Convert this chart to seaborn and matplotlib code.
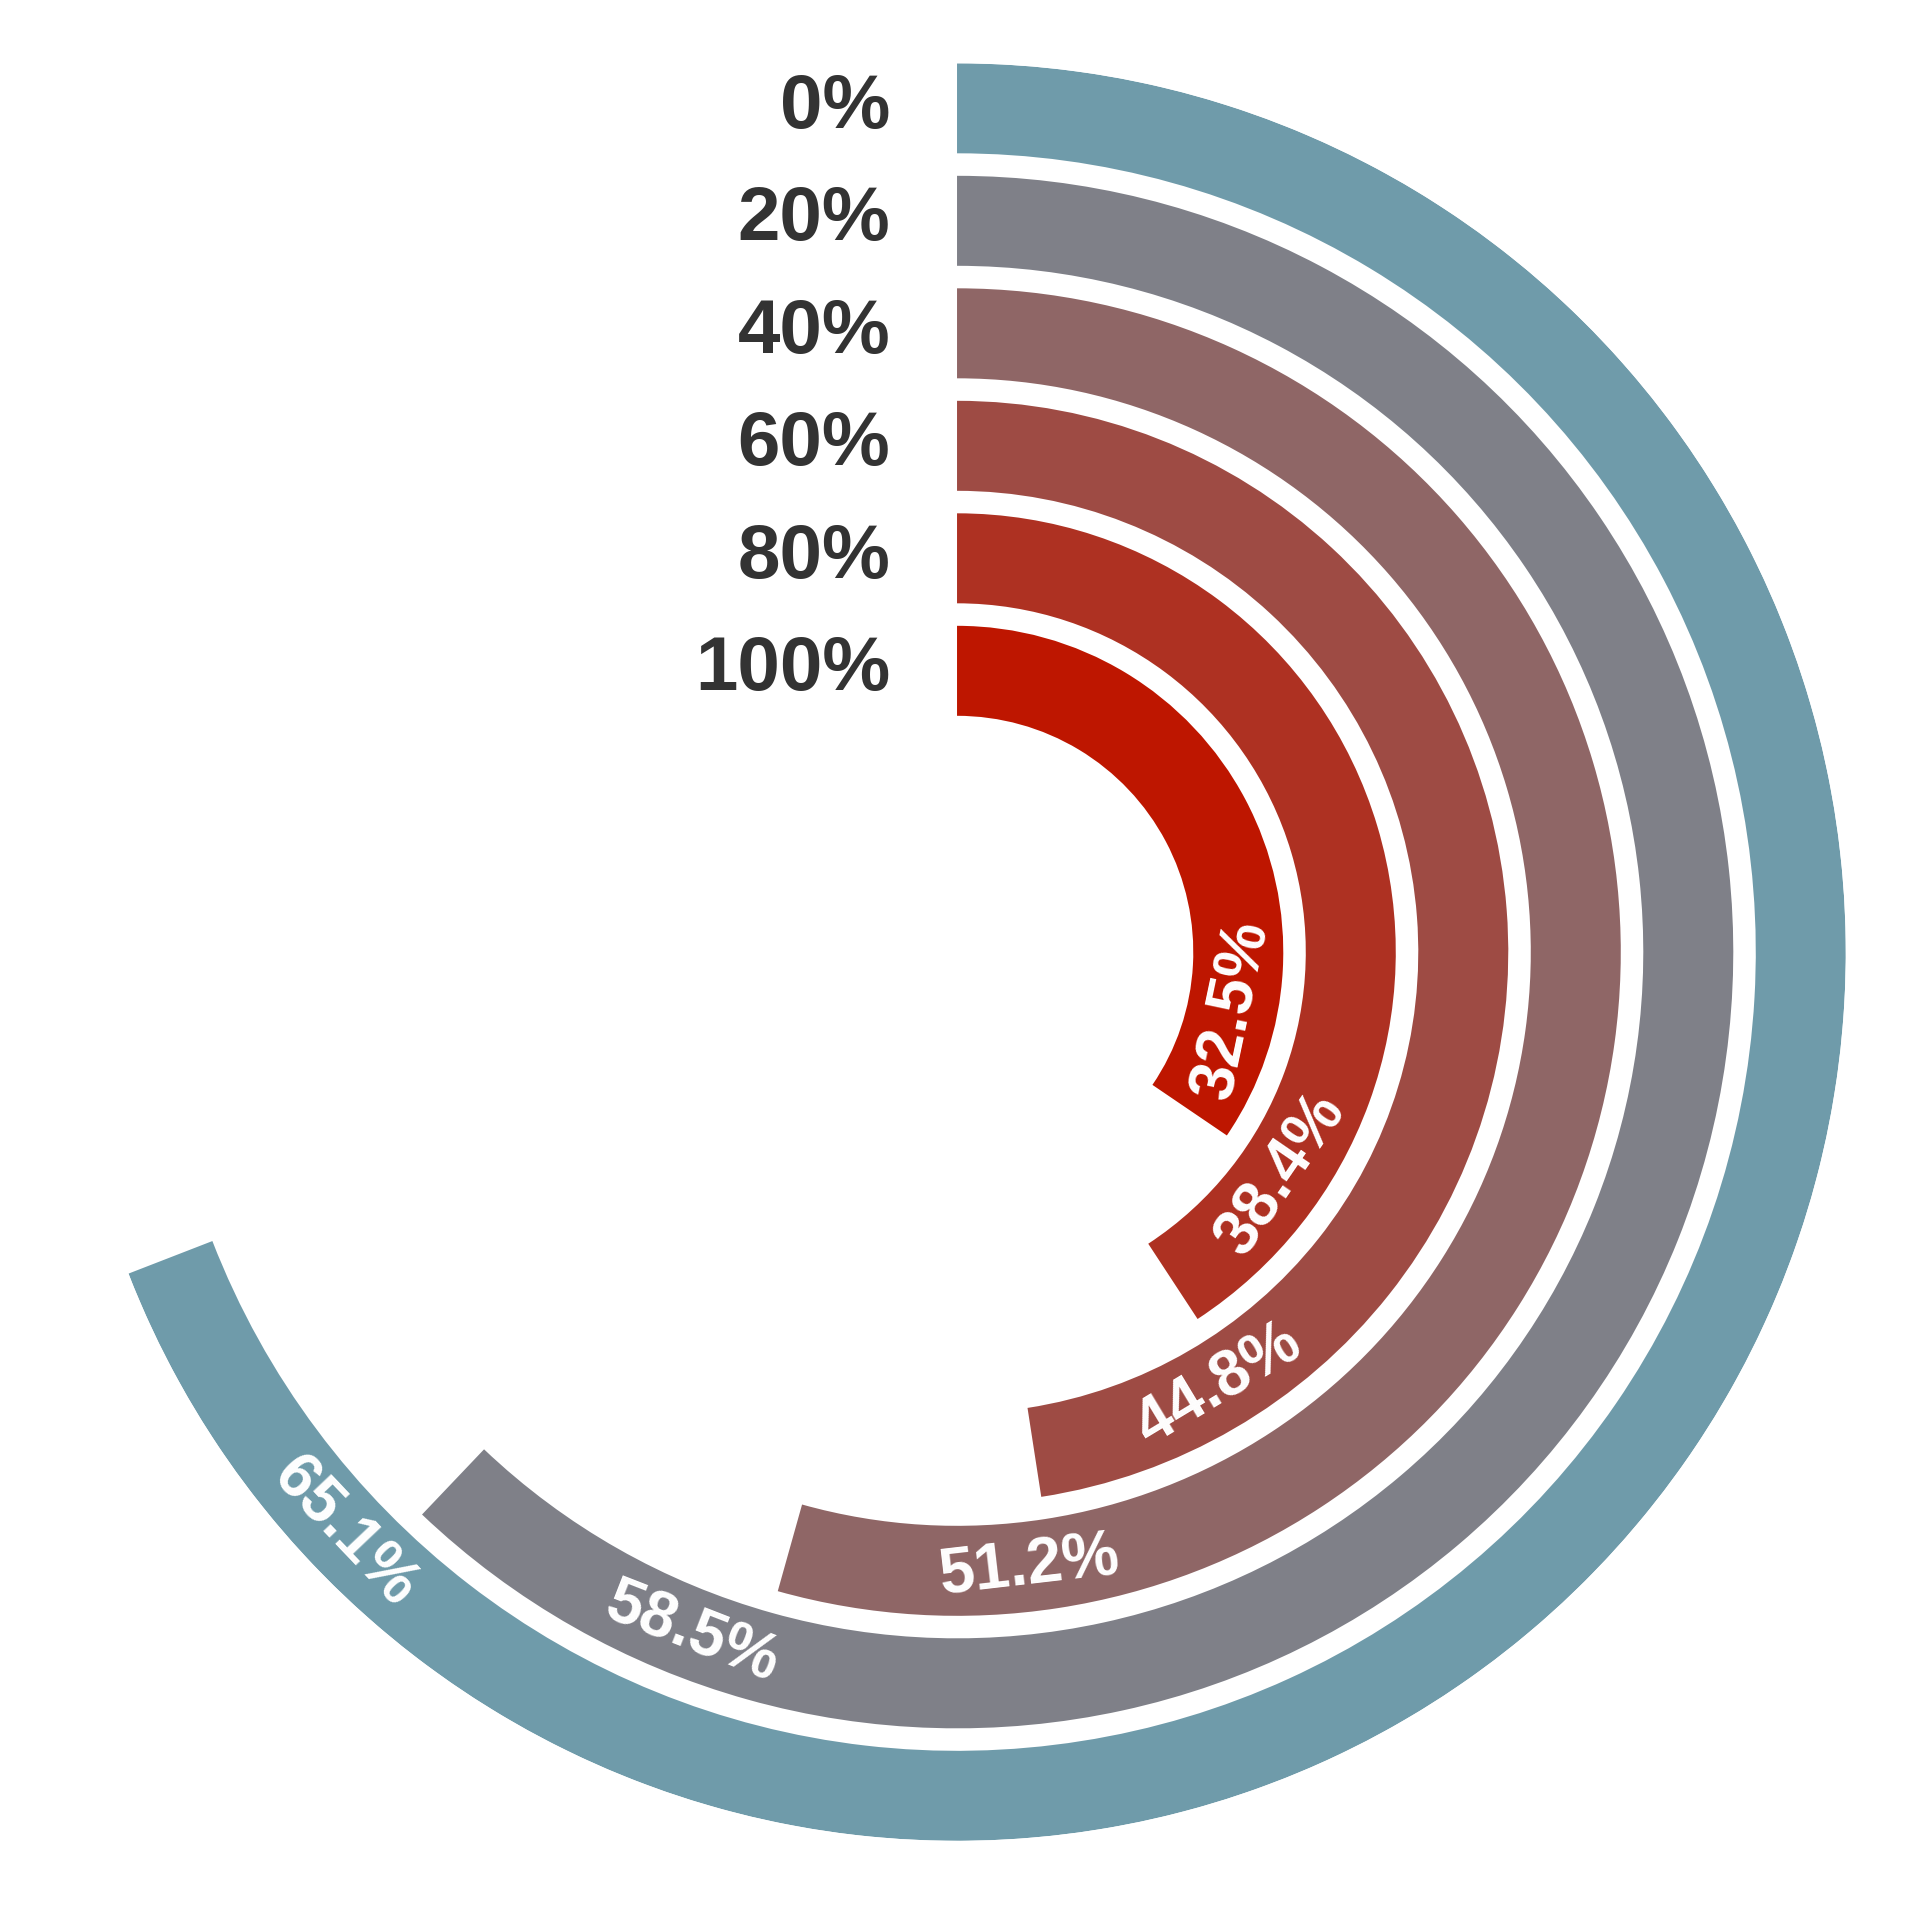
import numpy as np
import matplotlib.pyplot as plt
import seaborn as sns

#  Data (outer ring first) 
ring_labels = ['0%', '20%', '40%', '60%', '80%', '100%']
values = [65.1, 58.5, 51.2, 44.8, 38.4, 32.5]
value_labels = ['65.1%', '58.5%', '51.2%', '44.8%', '38.4%', '32.5%']

sns.set_theme(style='white')
plt.rcParams['font.family'] = ['Liberation Sans', 'DejaVu Sans']

# colours blend from steel blue (outer) to red (inner)
colors = sns.blend_palette(['#6F9BAA', '#BE1600'], len(values))

full_turn = 94.2      # percent that fills a whole circle
label_back = 22.3     # degrees the label centre sits before the bar end

fig = plt.figure(figsize=(19.07, 19.07), dpi=100)
ax = fig.add_axes([0.0358, 0.0347, 0.9321, 0.9321], projection='polar')
ax.set_theta_zero_location('N')
ax.set_theta_direction(-1)

radii = 7.5 - np.arange(len(values))
theta_deg = np.array(values) / full_turn * 360
ax.barh(radii, np.deg2rad(theta_deg), height=0.8, left=0,
        color=colors, edgecolor='none')
ax.set_ylim(0, 7.9)
ax.set_axis_off()

#  Ring labels on the left of the start line 
for r, lab in zip(radii, ring_labels):
    ax.annotate(lab, xy=(0, r), xytext=(-48, -14), textcoords='offset points',
                ha='right', va='baseline', fontsize=55, fontweight='bold',
                color='#333333')

#  Value labels along each bar 
for r, t, lab in zip(radii, theta_deg, value_labels):
    tc = t - label_back
    ax.text(np.deg2rad(tc), r, lab, rotation=180 - tc, rotation_mode='anchor',
            ha='center', va='center', fontsize=46, fontweight='bold',
            color='white')

fig.savefig('out.png', dpi=100)
